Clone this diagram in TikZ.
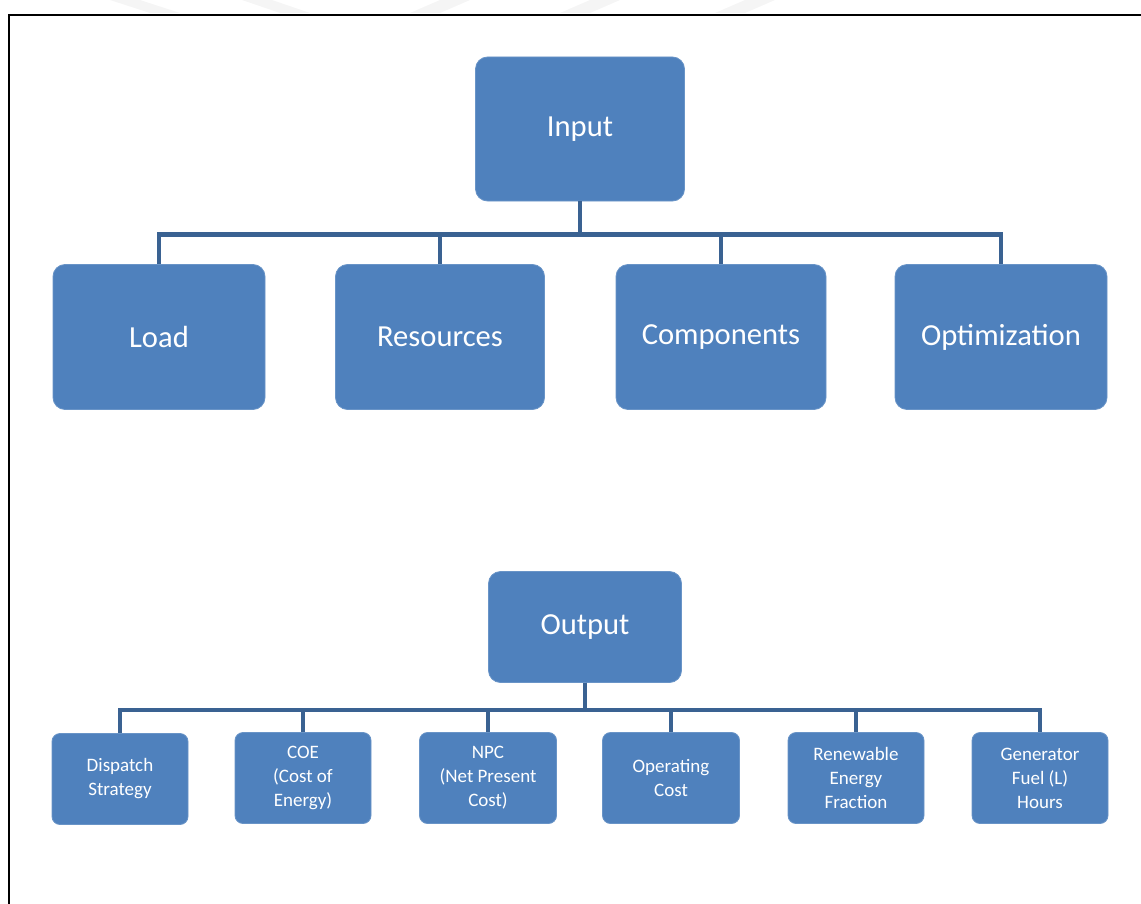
\documentclass[tikz,border=0pt]{standalone}
\usepackage{fontspec}
\setmainfont{Carlito}
\definecolor{boxblue}{RGB}{79,129,189}
\definecolor{linkblue}{RGB}{58,98,146}

\begin{document}
\begin{tikzpicture}[x=0.5pt,y=-0.5pt,
  box/.style={draw=boxblue!85!white,fill=boxblue,rounded corners=6pt,text=white,align=center,inner sep=1pt},
  bigbox/.style={box,minimum width=106pt,minimum height=72.5pt,font=\fontsize{15.3}{18}\selectfont},
  headbox/.style={box,font=\fontsize{15.3}{18}\selectfont},
  smallbox/.style={box,rounded corners=4pt,minimum width=68pt,minimum height=45.5pt,font=\fontsize{9.5}{12}\selectfont},
  link/.style={draw=linkblue,line width=2.4pt}]

\useasboundingbox (0,0) rectangle (1141,904);

% faint watermark above the frame
\foreach \xa/\xb in {110/150,242/280,440/410,590/560,745/715}
  \fill[gray!8] (\xa,0) -- (\xa+30,0) -- (\xb+30,13) -- (\xb,13) -- cycle;

% frame
\draw[line width=1.2pt] (1141,15) -- (9,15) -- (9,904);

% Input and its children
\node[headbox,minimum width=104.5pt,minimum height=72pt] (input) at (580,129) {Input};
\node[bigbox] (load) at (159,337) {Load};
\node[bigbox,minimum width=104.5pt] (res) at (440,337) {Resources};
\node[bigbox,minimum width=105pt] (comp) at (721,337) {Components};
\node[bigbox] (opt) at (1001,337) {Optimization};

\foreach \n in {load,res,comp,opt}
  \draw[link] (input.south) -- ++(0,33) -| (\n.north);

% Output and its children
\node[headbox,minimum width=96.5pt,minimum height=55.5pt] (output) at (585,627) {Output};
\node[smallbox] (disp) at (120,779) {Dispatch\\Strategy};
\node[smallbox] (coe) at (303,778) {COE\\(Cost of\\Energy)};
\node[smallbox,minimum width=68.5pt] (npc) at (488,778) {NPC\\(Net Present\\Cost)};
\node[smallbox,minimum width=68.5pt] (opc) at (671,778) {Operating\\Cost};
\node[smallbox] (ren) at (856,778) {Renewable\\Energy\\Fraction};
\node[smallbox] (gen) at (1040,778) {Generator\\Fuel (L)\\Hours};

\foreach \n in {disp,coe,npc,opc,ren,gen}
  \draw[link] (output.south) -- ++(0,27) -| (\n.north);

\end{tikzpicture}
\end{document}
